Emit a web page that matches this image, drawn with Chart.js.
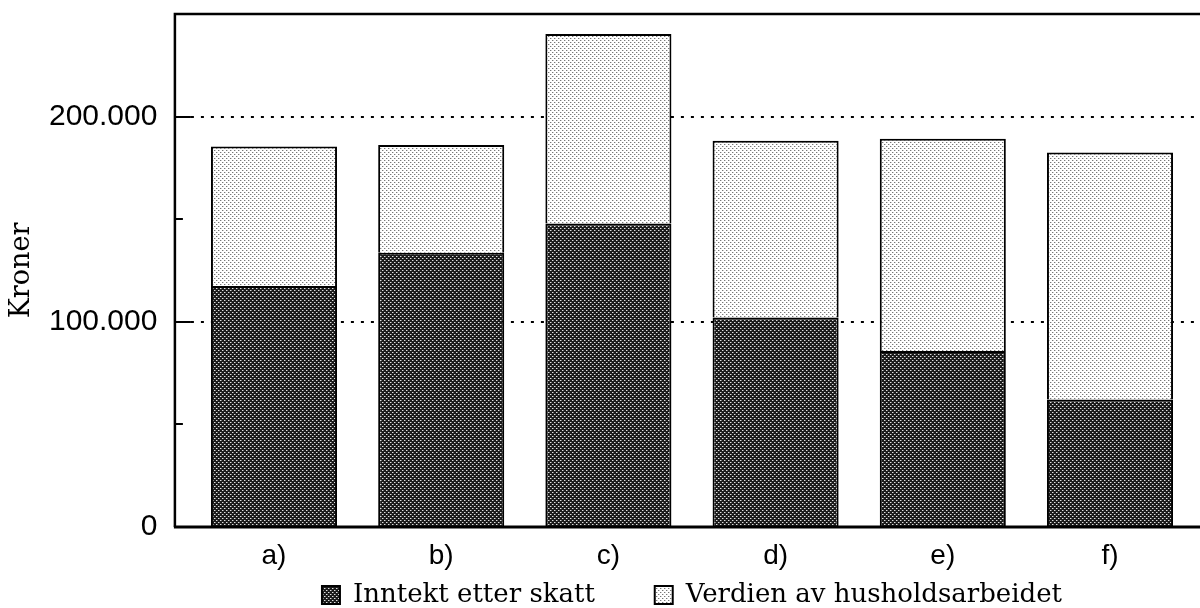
<!DOCTYPE html>
<html>
<head>
<meta charset="utf-8">
<script src="https://cdn.jsdelivr.net/npm/chart.js@4"></script>
<style>
  html, body { margin: 0; padding: 0; background: #fff; }
  #wrap { width: 1200px; height: 608px; }
</style>
</head>
<body>
<div id="wrap"><canvas id="chart"></canvas></div>
<script>
(function () {
    "use strict";

    // data (kroner)
    const categories = ["a)", "b)", "c)", "d)", "e)", "f)"];
    const inntektEtterSkatt = [117500, 133700, 147900, 102100, 85800, 62100];
    const verdienAvHusholdsarbeidet = [67900, 52400, 92300, 86100, 103400, 120400];
    const seriesNames = ["Inntekt etter skatt", "Verdien av husholdsarbeidet"];
    const yTickLabels = { 0: "0", 100000: "100.000", 200000: "200.000" };
    const yMax = 250000;
    const yStep = 50000;

    const AXIS_GAP = 15.5; // y axis line sits a bit left of the first category

    // dotted screen fills like the printed original
    function makePattern(bg, dot, halo) {
        const c = document.createElement("canvas");
        c.width = 4;
        c.height = 4;
        const g = c.getContext("2d");
        g.fillStyle = bg;
        g.fillRect(0, 0, 4, 4);
        g.fillStyle = halo;
        g.fillRect(1, 0, 1, 1);
        g.fillRect(3, 2, 1, 1);
        g.fillStyle = dot;
        g.fillRect(0, 0, 1, 1);
        g.fillRect(2, 2, 1, 1);
        return g.createPattern(c, "repeat");
    }
    const darkFill = makePattern("#1c1c1c", "#e0e0e0", "#777");
    const lightFill = makePattern("#ffffff", "#777", "#cfcfcf");

    // frame, ticks and dotted grid lines running to the right edge
    const framePlugin = {
        id: "frame",
        beforeDatasetsDraw(chart) {
            const { ctx, chartArea: a, scales: { y } } = chart;
            const x0 = a.left - AXIS_GAP;
            ctx.save();
            ctx.strokeStyle = "#000";
            ctx.lineWidth = 2;
            ctx.setLineDash([3, 7]);
            Object.keys(yTickLabels).map(Number).filter(v => v > 0).forEach(v => {
                const py = Math.round(y.getPixelForValue(v));
                ctx.beginPath();
                ctx.moveTo(x0 + 16, py);
                ctx.lineTo(chart.width, py);
                ctx.stroke();
            });
            ctx.restore();
        },
        afterDatasetsDraw(chart) {
            const { ctx, chartArea: a, scales: { y } } = chart;
            const x0 = a.left - AXIS_GAP;
            ctx.save();
            ctx.strokeStyle = "#000";
            ctx.lineCap = "butt";
            // ticks
            ctx.lineWidth = 2;
            y.ticks.forEach(t => {
                if (t.value <= 0 || t.value >= yMax) return;
                const py = Math.round(y.getPixelForValue(t.value));
                const len = yTickLabels[t.value] ? 16 : 8;
                ctx.beginPath();
                ctx.moveTo(x0, py);
                ctx.lineTo(x0 + len, py);
                ctx.stroke();
            });
            // left and top frame
            ctx.lineWidth = 2.5;
            ctx.beginPath();
            ctx.moveTo(x0, a.bottom);
            ctx.lineTo(x0, a.top);
            ctx.lineTo(chart.width, a.top);
            ctx.stroke();
            // base line
            ctx.lineWidth = 3;
            ctx.beginPath();
            ctx.moveTo(x0 - 1, a.bottom);
            ctx.lineTo(chart.width, a.bottom);
            ctx.stroke();
            ctx.restore();
        },
    };

    new Chart(document.getElementById("chart"), {
        type: "bar",
        data: {
            labels: categories,
            datasets: [
                {
                    label: seriesNames[0],
                    data: inntektEtterSkatt,
                    backgroundColor: darkFill,
                    borderColor: "#000",
                    borderWidth: 2,
                    categoryPercentage: 1,
                    barPercentage: 0.754,
                },
                {
                    label: seriesNames[1],
                    data: verdienAvHusholdsarbeidet,
                    backgroundColor: lightFill,
                    borderColor: "#000",
                    borderWidth: 2,
                    categoryPercentage: 1,
                    barPercentage: 0.754,
                },
            ],
        },
        options: {
            responsive: true,
            maintainAspectRatio: false,
            animation: false,
            layout: {
                padding: { left: 0, right: 6.4, top: 14, bottom: -10 },
            },
            plugins: {
                tooltip: { enabled: false },
                legend: {
                    position: "bottom",
                    fullSize: false,
                    labels: {
                        color: "#000",
                        font: { family: "DejaVu Serif", size: 26 },
                        boxWidth: 18,
                        boxHeight: 18,
                        padding: 2,
                        // wide gap between the two keys, as in the original
                        generateLabels: (chart) => {
                            const items = Chart.defaults.plugins.legend.labels.generateLabels(chart);
                            items.forEach((it, i) => {
                                if (i < items.length - 1) it.text += "       ";
                            });
                            return items;
                        },
                    },
                },
            },
            scales: {
                x: {
                    stacked: true,
                    grid: { display: false, drawTicks: false },
                    border: { display: false },
                    ticks: {
                        color: "#000",
                        font: { family: "Liberation Sans", size: 28 },
                        padding: 12,
                    },
                    afterFit: (s) => {
                        s.height = 53;
                        s.paddingLeft = 0;
                        s.paddingRight = 0;
                    },
                },
                y: {
                    stacked: true,
                    min: 0,
                    max: yMax,
                    grid: { display: false, drawTicks: false },
                    border: { display: false },
                    ticks: {
                        stepSize: yStep,
                        color: "#000",
                        font: { family: "Liberation Sans", size: 30 },
                        padding: 33,
                        callback: (v) => yTickLabels[v] || "",
                    },
                    title: {
                        display: true,
                        text: "Kroner",
                        color: "#000",
                        font: { family: "DejaVu Serif", size: 27 },
                        padding: { top: 6, bottom: 0 },
                    },
                    afterFit: (s) => {
                        s.width = 190.4;
                        s.paddingTop = 0;
                        s.paddingBottom = 0;
                    },
                },
            },
        },
        plugins: [framePlugin],
    });
})();
</script>
</body>
</html>
